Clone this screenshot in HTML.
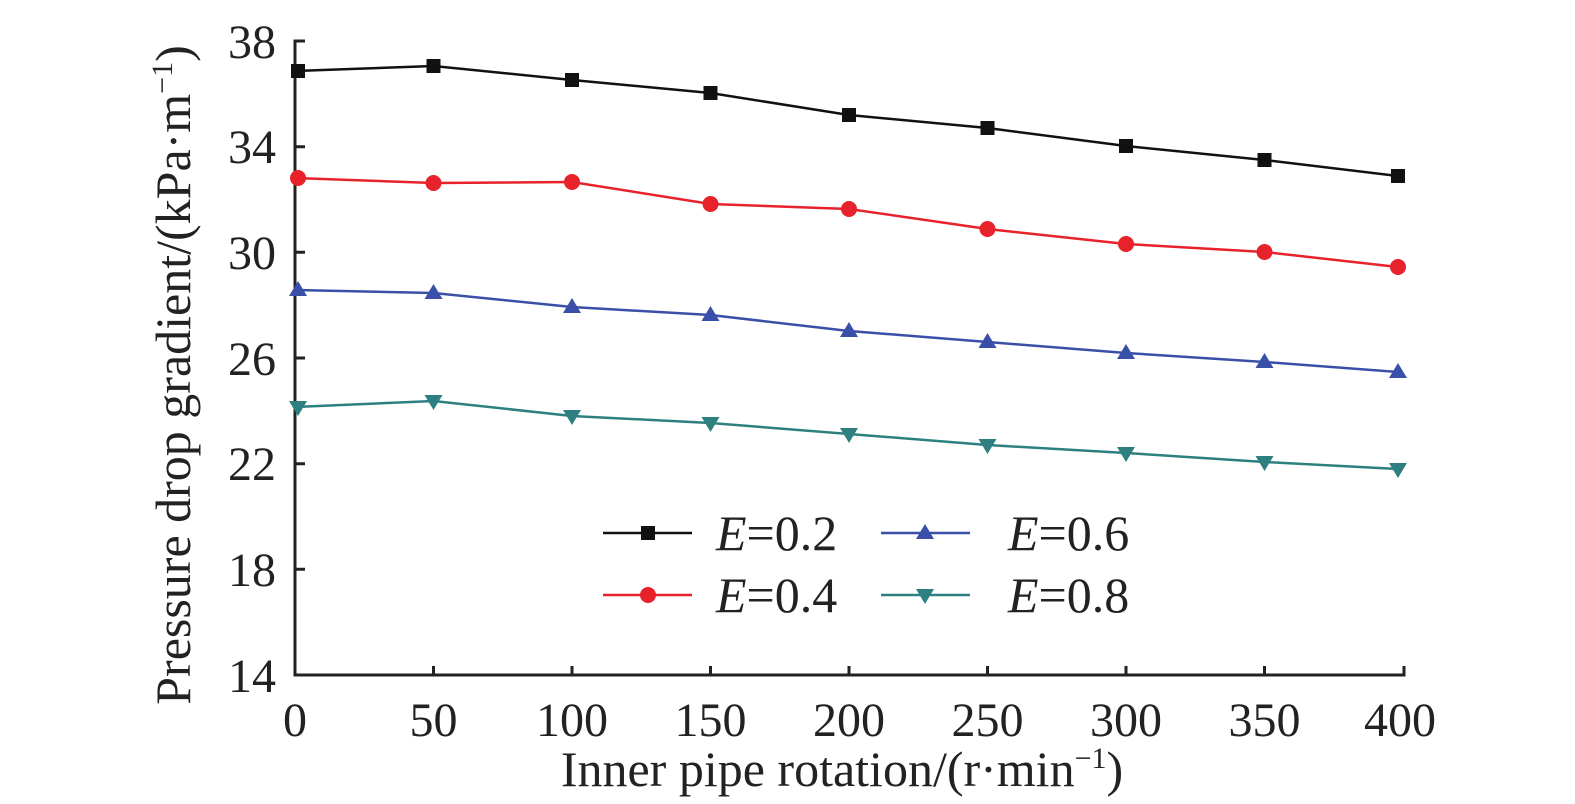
<!DOCTYPE html>
<html><head><meta charset="utf-8"><style>body{margin:0;background:#fff}svg{display:block}</style></head><body>
<svg width="1575" height="804" viewBox="0 0 1575 804" xmlns="http://www.w3.org/2000/svg" font-family="Liberation Serif, Noto Serif CJK SC, serif" fill="#222">
<defs>
<rect id="sq" x="-7" y="-7" width="14" height="14" fill="#111"/>
<circle id="ci" r="8" fill="#e8222b"/>
<polygon id="tu" points="0,-9 9,6 -9,6" fill="#3a4fa8"/>
<polygon id="td" points="0,9 9,-6 -9,-6" fill="#2e8080"/>
</defs>
<g stroke="#222" stroke-width="3" fill="none">
<path d="M305,41 H295 V675 H1404 V666"/>
<path d="M295,146.7 H305 M295,252.3 H305 M295,358 H305 M295,463.7 H305 M295,569.3 H305"/>
<path d="M433.5,675 V666 M572,675 V666 M710.5,675 V666 M849,675 V666 M987.5,675 V666 M1126,675 V666 M1264.5,675 V666"/>
</g>
<g font-size="48" text-anchor="end">
<text x="276" y="58">38</text><text x="276" y="163">34</text><text x="276" y="269">30</text>
<text x="276" y="375">26</text><text x="276" y="480">22</text><text x="276" y="586">18</text><text x="276" y="692">14</text>
</g>
<g font-size="48" text-anchor="middle">
<text x="295" y="736">0</text><text x="433.5" y="736">50</text><text x="572" y="736">100</text><text x="710.5" y="736">150</text>
<text x="849" y="736">200</text><text x="987.5" y="736">250</text><text x="1126" y="736">300</text><text x="1264.5" y="736">350</text><text x="1400" y="736">400</text>
</g>
<g font-size="50" text-anchor="middle">
<text x="842" y="786">Inner pipe rotation/(r·min<tspan font-size="30" dy="-18">−1</tspan><tspan dy="18">)</tspan></text>
<text transform="translate(190,375) rotate(-90)">Pressure drop gradient/(kPa·m<tspan font-size="30" dy="-18">−1</tspan><tspan dy="18">)</tspan></text>
</g>
<g fill="none" stroke-width="2.5">
<polyline stroke="#111" points="295,71 433.5,66 572,80 710.5,93 849,115 987.5,128 1126,146 1264.5,160 1398,176"/>
<polyline stroke="#e8222b" points="295,178 433.5,183 572,182 710.5,204 849,209 987.5,229 1126,244 1264.5,252 1398,267"/>
<polyline stroke="#3a4fa8" points="295,290 433.5,293 572,307 710.5,315 849,331 987.5,342 1126,353 1264.5,362 1398,372"/>
<polyline stroke="#2e8080" points="295,407 433.5,401 572,416 710.5,423 849,434 987.5,445 1126,453 1264.5,462 1398,469"/>
<path stroke="#111" d="M603,533 H692"/><path stroke="#e8222b" d="M603,595 H692"/>
<path stroke="#3a4fa8" d="M881,533 H970"/><path stroke="#2e8080" d="M881,595 H970"/>
</g>
<g>
<use href="#sq" x="298" y="71"/><use href="#sq" x="433.5" y="66"/><use href="#sq" x="572" y="80"/><use href="#sq" x="710.5" y="93"/><use href="#sq" x="849" y="115"/><use href="#sq" x="987.5" y="128"/><use href="#sq" x="1126" y="146"/><use href="#sq" x="1264.5" y="160"/><use href="#sq" x="1398" y="176"/>
<use href="#ci" x="298" y="178"/><use href="#ci" x="433.5" y="183"/><use href="#ci" x="572" y="182"/><use href="#ci" x="710.5" y="204"/><use href="#ci" x="849" y="209"/><use href="#ci" x="987.5" y="229"/><use href="#ci" x="1126" y="244"/><use href="#ci" x="1264.5" y="252"/><use href="#ci" x="1398" y="267"/>
<use href="#tu" x="298" y="290"/><use href="#tu" x="433.5" y="293"/><use href="#tu" x="572" y="307"/><use href="#tu" x="710.5" y="315"/><use href="#tu" x="849" y="331"/><use href="#tu" x="987.5" y="342"/><use href="#tu" x="1126" y="353"/><use href="#tu" x="1264.5" y="362"/><use href="#tu" x="1398" y="372"/>
<use href="#td" x="298" y="407"/><use href="#td" x="433.5" y="401"/><use href="#td" x="572" y="416"/><use href="#td" x="710.5" y="423"/><use href="#td" x="849" y="434"/><use href="#td" x="987.5" y="445"/><use href="#td" x="1126" y="453"/><use href="#td" x="1264.5" y="462"/><use href="#td" x="1398" y="469"/>
<use href="#sq" x="648" y="533"/><use href="#ci" x="648" y="595"/><use href="#tu" x="925" y="533"/><use href="#td" x="925" y="595"/>
</g>
<g font-size="50">
<text x="716" y="550"><tspan font-style="italic">E</tspan>=0.2</text>
<text x="716" y="612"><tspan font-style="italic">E</tspan>=0.4</text>
<text x="1008" y="550"><tspan font-style="italic">E</tspan>=0.6</text>
<text x="1008" y="612"><tspan font-style="italic">E</tspan>=0.8</text>
</g>
</svg>
</body></html>
